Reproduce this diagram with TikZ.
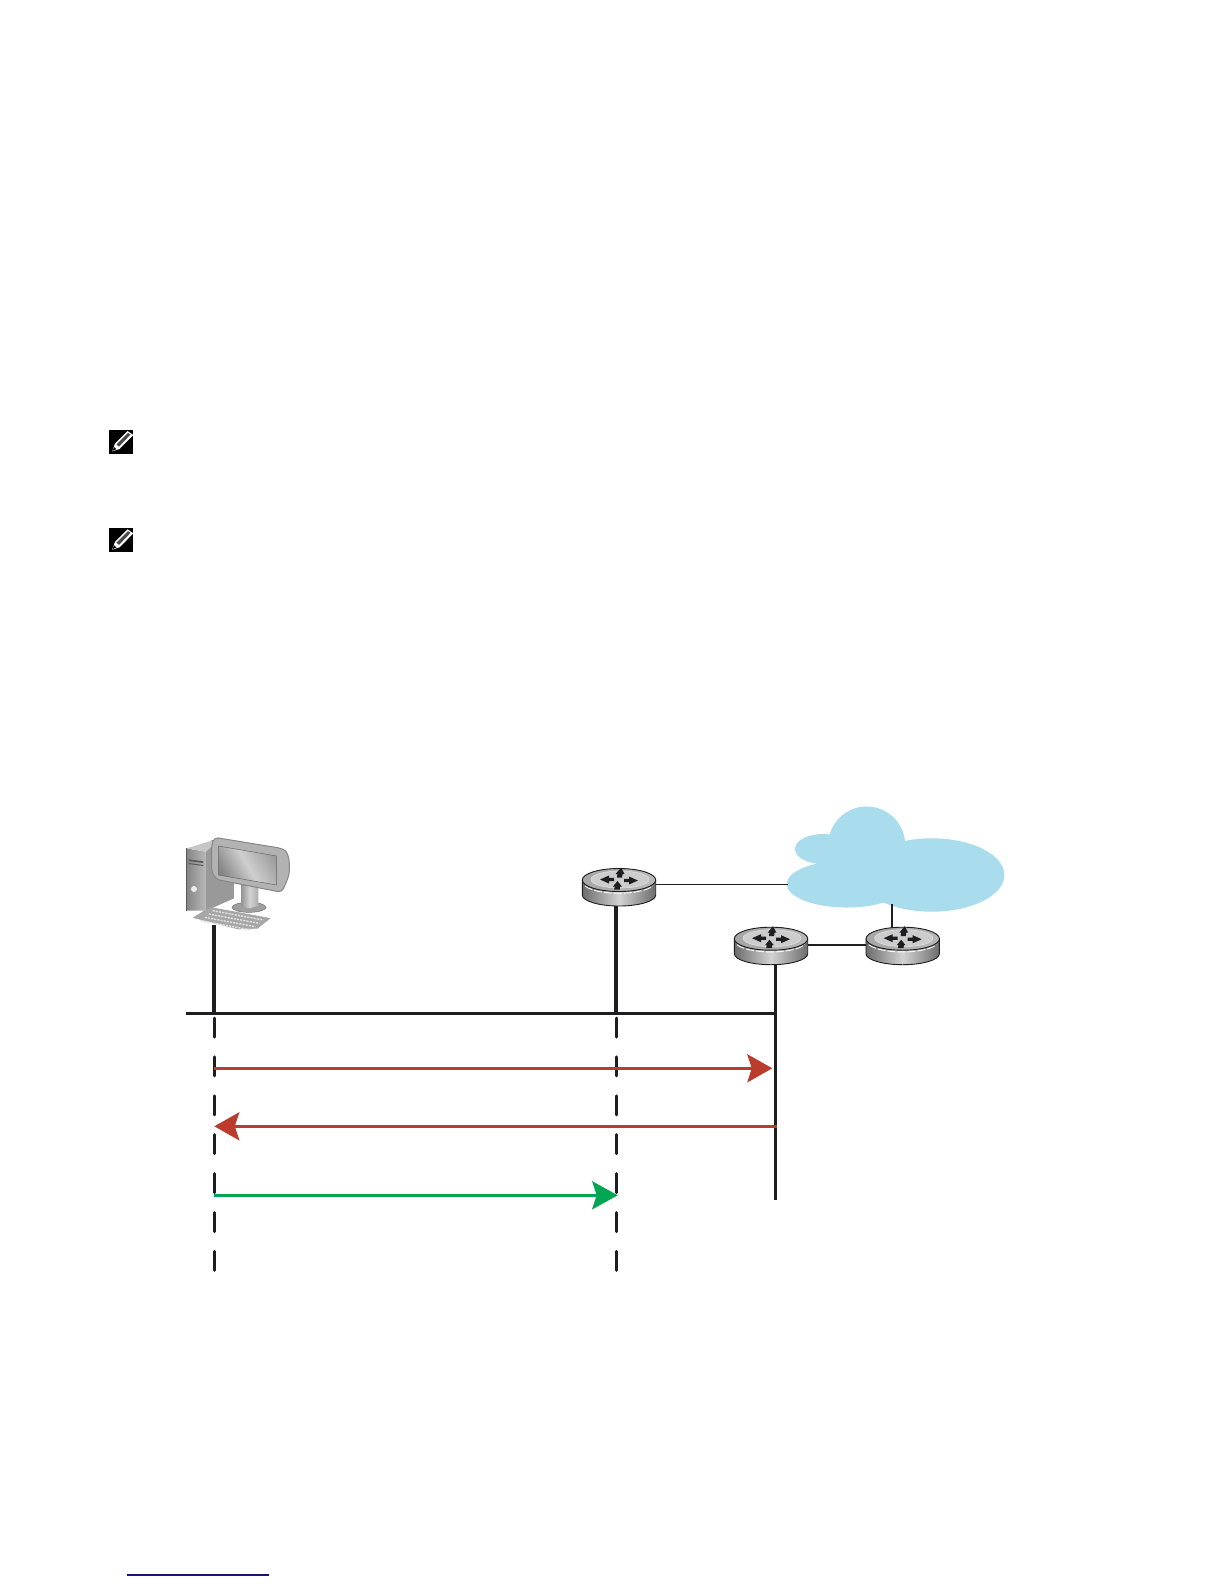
\documentclass[tikz,border=0pt]{standalone}
\usetikzlibrary{arrows.meta}
\definecolor{cloudblue}{HTML}{A9DDEE}
\definecolor{arrowred}{HTML}{B93C2C}
\definecolor{arrowgreen}{HTML}{00A651}
\definecolor{inkblack}{HTML}{1E1E20}
\definecolor{linknavy}{HTML}{14147F}
\tikzset{
  anchorbox/.style={inner sep=0pt,outer sep=0pt,minimum width=73.4pt,minimum height=38pt},
  link/.style={draw=inkblack,line width=1.3pt},
  medlink/.style={draw=inkblack,line width=2.2pt},
  heavy/.style={draw=inkblack,line width=3.8pt},
  bus/.style={draw=inkblack,line width=3.2pt},
  dashline/.style={draw=inkblack,line width=3pt,line cap=round,dash pattern=on 19pt off 19.9pt},
  redarrow/.style={draw=arrowred,line width=3.2pt,-{Stealth[length=25pt,width=28pt,inset=4.5pt,fill=arrowred]}},
  greenarrow/.style={draw=arrowgreen,line width=3.2pt,-{Stealth[length=25.5pt,width=28pt,inset=4.5pt,fill=arrowgreen]}},
  routerarrow/.style={fill=inkblack,draw=none}
}
\newcommand{\routericon}[2]{%
  \begin{scope}[shift={(#1,#2)}]
    \path[left color=gray!85!black,right color=gray!85!black,middle color=gray!35]
      (-36.7,-7) -- (36.7,-7) -- (36.7,8)
      arc[start angle=0,end angle=-180,x radius=36.7pt,y radius=11pt] -- cycle;
    \draw[inkblack,line width=0.9pt] (-36.7,-7) -- (-36.7,8)
      arc[start angle=180,end angle=360,x radius=36.7pt,y radius=11pt] -- (36.7,-7);
    \filldraw[draw=inkblack,line width=0.9pt,left color=gray!70,right color=gray!55] (0,-7) ellipse[x radius=36.7pt,y radius=11.5pt];
    \draw[white,line width=0.9pt,dash pattern=on 8pt off 2pt] (-34,-1) arc[start angle=200,end angle=340,x radius=36pt,y radius=11pt];
    \draw[gray!25,line width=0.6pt,fill=gray!40] (1,-7.5) ellipse[x radius=29pt,y radius=8.5pt];
    \fill[routerarrow] (-19,-7.5) -- (-10,-11.5) -- (-10,-9.2) -- (-5,-9.2) -- (-5,-5.8) -- (-10,-5.8) -- (-10,-3.5) -- cycle;
    \fill[routerarrow] (19,-6.5) -- (10,-10.5) -- (10,-8.2) -- (5,-8.2) -- (5,-4.8) -- (10,-4.8) -- (10,-2.5) -- cycle;
    \fill[routerarrow] (2,-19.5) -- (5.5,-13) -- (3.6,-13) -- (3,-9.5) -- (-2,-9.5) -- (-1.6,-13) -- (-3.4,-13) -- cycle;
    \fill[routerarrow] (-1.5,-6) -- (2.8,-0.5) -- (1.2,-0.5) -- (0.8,2.5) -- (-4.8,2.5) -- (-4.3,-0.5) -- (-6,-0.5) -- cycle;
  \end{scope}}
\newcommand{\noteicon}[2]{%
  \begin{scope}[shift={(#1,#2)}]
    \fill[black] (0,0) rectangle (24.4,24);
    \fill[white] (3.2,21.4) -- (6,13.5) -- (18.5,1) -- (24.4,5) -- (10.5,19) -- cycle;
    \fill[black!70] (7.4,14.4) -- (19,2.8) -- (21.5,4.6) -- (10,16.6) -- cycle;
    \fill[black] (3.6,20.9) -- (5,16.8) -- (7.4,19.2) -- cycle;
  \end{scope}}
\begin{document}
\begin{tikzpicture}[x=1pt,y=-1pt]
\useasboundingbox (0,0) rectangle (1224,1584);
\fill[white] (0,0) rectangle (1224,1584);

% note icons
\noteicon{109}{430}
\noteicon{109}{528.3}

% cloud
\fill[cloudblue] (866.7,845) circle[radius=38.5pt]
  (823,849) ellipse[x radius=28pt,y radius=15pt]
  (846.7,884) ellipse[x radius=60pt,y radius=23.5pt]
  (931.7,875) ellipse[x radius=72.7pt,y radius=36.7pt]
  (880,870) ellipse[x radius=40pt,y radius=25pt];
\coordinate (cloudW) at (788,884.3);
\coordinate (cloudS) at (892,904);

% named anchors
\node[anchorbox] (r1) at (619,887) {};
\node[anchorbox] (r2) at (771,945.7) {};
\node[anchorbox] (r3) at (902.7,945.7) {};
\coordinate (pcfoot) at (214.3,925);
\coordinate (busW) at (186,1013.3);
\coordinate (busA) at (214.3,1013.3);
\coordinate (busB) at (616,1013.3);
\coordinate (busE) at (775.3,1013.3);
\coordinate (r1foot) at (616,905);
\coordinate (r2foot) at (775.3,964);
\coordinate (vertE) at (775.3,1200);
\coordinate (dashA0) at (214.3,1018);
\coordinate (dashA1) at (214.3,1272);
\coordinate (dashB0) at (616,1018);
\coordinate (dashB1) at (616,1272);
\coordinate (r1p) at (655.7,884.3);
\coordinate (r2p) at (807.7,945);
\coordinate (r3p) at (866,945);
\coordinate (r3top) at (892,928);

% connectors
\draw[link] (r1p) -- (cloudW);
\draw[link] (r2p) -- (r3p);
\draw[medlink] (cloudS) -- (r3top);
\draw[heavy] (pcfoot) -- (busA);
\draw[heavy] (r1foot) -- (busB);
\draw[bus] (busW) -- (busE);
\draw[medlink,line width=3.2pt] (r2foot) -- (vertE);
\draw[dashline] (dashA0) -- (dashA1);
\draw[dashline] (dashB0) -- (dashB1);

% routers
\routericon{619}{887}
\routericon{771}{945.7}
\routericon{902.7}{945.7}

% arrows
\coordinate (a1s) at (214.3,1068.3);
\coordinate (a1e) at (772.3,1068.3);
\coordinate (a2s) at (776.5,1126.3);
\coordinate (a2e) at (214.3,1126.3);
\coordinate (a3s) at (214.3,1195.3);
\coordinate (a3e) at (617.7,1195.3);
\draw[redarrow] (a1s) -- (a1e);
\draw[redarrow] (a2s) -- (a2e);
\draw[greenarrow] (a3s) -- (a3e);

% computer (drawn in 3x crop coordinates)
\begin{scope}[shift={(170,820)},x=0.33333pt,y=-0.33333pt]
  \fill[gray!80] (108,85) -- (125,60) -- (190,60) -- (192,235) -- (108,272) -- cycle;
  \path[left color=gray!95,right color=gray!55] (50,85) -- (108,95) -- (108,272) -- (50,272) -- cycle;
  \fill[gray!45] (50,85) -- (125,62) -- (135,70) -- (108,95) -- cycle;
  \draw[gray!70!black,line width=1pt] (50,85) -- (50,272);
  \fill[black!65] (56,118) -- (100,124) -- (100,129) -- (56,123) -- cycle;
  \fill[black!65] (56,129) -- (100,135) -- (100,138) -- (56,132) -- cycle;
  \fill[gray!15] (72,207) circle[radius=3pt];
  % stand base
  \filldraw[draw=gray!90!black,line width=0.5pt,fill=gray!75] (237,262) ellipse[x radius=17pt,y radius=5pt];
  % stand
  \path[left color=gray!85,right color=gray!65,middle color=gray!35] (213,190) -- (265,200) -- (265,258) -- (237,265) -- (213,258) -- cycle;
  % monitor
  \filldraw[draw=gray!95,line width=1pt,fill=gray!60,rounded corners=4pt] (125,75) -- (133,52) -- (335,85) .. controls (358,100) and (362,145) .. (352,180) -- (335,217) -- (138,178) -- (125,155) -- cycle;
  \path[left color=gray!95,right color=gray!75,middle color=gray!38,shading angle=120] (145,78) -- (320,108) -- (320,195) -- (145,165) -- cycle;
  \draw[gray!80!black,line width=0.5pt] (145,78) -- (320,108) -- (320,195) -- (145,165) -- cycle;
  % keyboard
  \filldraw[draw=gray!70,line width=0.5pt,fill=gray!70] (70,293) -- (120,262) -- (300,295) -- (262,325) -- (205,327) -- cycle;
  \foreach \i in {0,1,2,3}{
    \draw[gray!25,line width=1.4pt,dash pattern=on 2.2pt off 1pt]
      ({128+\i*(-12)},{272+\i*10}) -- ({280+\i*(-12)},{300+\i*10});}
\end{scope}
\draw[heavy] (214.3,928) -- (pcfoot);

% underline at foot of page
\coordinate (ulA) at (126.7,1575);
\coordinate (ulB) at (269,1575);
\draw[linknavy,line width=1.3pt] (ulA) -- (ulB);
\end{tikzpicture}
\end{document}
